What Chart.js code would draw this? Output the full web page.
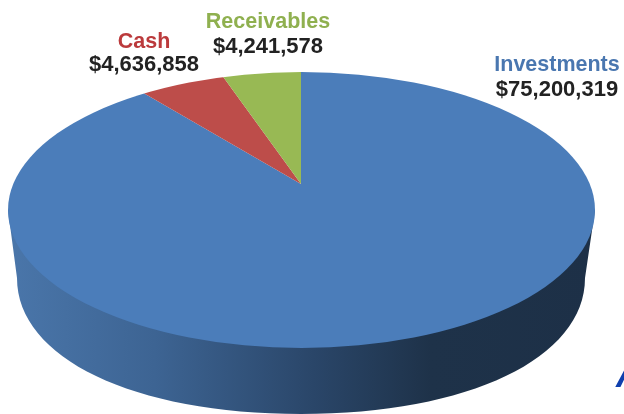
<!DOCTYPE html>
<html>
<head>
  <title>Assets</title>
  <meta charset="UTF-8">
  <script src="https://cdn.jsdelivr.net/npm/chart.js"></script>
  <style>
    html, body {
      margin: 0;
      padding: 0;
      background-color: white;
      overflow: hidden;
    }
    #wrap {
      width: 624px;
      height: 414px;
      position: relative;
    }
  </style>
</head>
<body>
  <div id="wrap">
    <canvas id="pieChart" width="624" height="414"></canvas>
  </div>

  <script>
    // Values as printed next to the slices
    const categories = ['Investments', 'Cash', 'Receivables'];
    const amounts = [75200319, 4636858, 4241578];
    const amountLabels = ['$75,200,319', '$4,636,858', '$4,241,578'];
    const sliceColors = ['#4b7dba', '#bd4d4a', '#98b954'];
    const nameColors = ['#4a77b0', '#bb3a3c', '#8fb04f'];
    const labelSpots = [[557, 65, 90], [144, 42, 65], [268, 22, 47]];

    // Top face and bottom edge of the tilted disc
    const top_ = { x: 301.5, y: 210, rx: 293.5, ry: 138 };
    const bottom_ = { x: 301, y: 278, rx: 284, ry: 136, k: 0.59 };
    // The slice tip sits above the middle of the face (perspective)
    const apex = { x: 301, y: 184, sx: 248, sy: 112 };
    const overscan = 1.5;

    const tiltPlugin = {
      id: 'tilt',
      beforeDatasetsDraw(chart) {
        const ctx = chart.ctx;
        // side wall, a bit fuller than a true ellipse at the bottom
        const grad = ctx.createLinearGradient(top_.x - top_.rx, 0, top_.x + top_.rx, 0);
        grad.addColorStop(0, '#4a76aa');
        grad.addColorStop(0.25, '#3d6493');
        grad.addColorStop(0.52, '#2a4669');
        grad.addColorStop(0.72, '#1e3249');
        grad.addColorStop(1, '#1d3047');
        const b = bottom_;
        ctx.save();
        ctx.beginPath();
        ctx.moveTo(top_.x - top_.rx, top_.y);
        ctx.lineTo(b.x - b.rx, b.y);
        ctx.bezierCurveTo(b.x - b.rx, b.y + b.k * b.ry, b.x - b.k * b.rx, b.y + b.ry, b.x, b.y + b.ry);
        ctx.bezierCurveTo(b.x + b.k * b.rx, b.y + b.ry, b.x + b.rx, b.y + b.k * b.ry, b.x + b.rx, b.y);
        ctx.lineTo(top_.x + top_.rx, top_.y);
        ctx.closePath();
        ctx.fillStyle = grad;
        ctx.fill();
        ctx.restore();

        // squash the pie onto the top face
        const arc = chart.getDatasetMeta(0).data[0];
        const r = arc.outerRadius;
        ctx.save();
        ctx.beginPath();
        ctx.ellipse(top_.x, top_.y, top_.rx, top_.ry, 0, 0, Math.PI * 2);
        ctx.clip();
        ctx.translate(apex.x, apex.y);
        ctx.scale(apex.sx * overscan / r, apex.sy * overscan / r);
        ctx.translate(-arc.x, -arc.y);
      },
      afterDatasetsDraw(chart) {
        chart.ctx.restore();
      },
      afterDraw(chart) {
        const ctx = chart.ctx;
        ctx.save();
        ctx.textAlign = 'center';
        ctx.textBaseline = 'middle';
        categories.forEach((name, i) => {
          const spot = labelSpots[i];
          ctx.font = 'bold 21.5px "Liberation Sans", Arial, sans-serif';
          ctx.fillStyle = nameColors[i];
          ctx.fillText(name, spot[0], spot[1]);
          ctx.font = 'bold 22px "Liberation Sans", Arial, sans-serif';
          ctx.fillStyle = '#222222';
          ctx.fillText(amountLabels[i], spot[0], spot[2]);
        });
        // start of a heading cut off by the page edge
        ctx.textAlign = 'left';
        ctx.textBaseline = 'alphabetic';
        ctx.font = 'italic bold 36px "Liberation Sans", Arial, sans-serif';
        ctx.fillStyle = '#0f3fae';
        ctx.fillText('A', 616, 387);
        ctx.restore();
      }
    };

    new Chart(document.getElementById('pieChart').getContext('2d'), {
      type: 'pie',
      data: {
        labels: categories,
        datasets: [{
          data: amounts,
          backgroundColor: sliceColors,
          borderWidth: 0
        }]
      },
      options: {
        responsive: false,
        animation: false,
        layout: { padding: 0 },
        plugins: {
          legend: { display: false },
          tooltip: { enabled: false }
        }
      },
      plugins: [tiltPlugin]
    });
  </script>
</body>
</html>
